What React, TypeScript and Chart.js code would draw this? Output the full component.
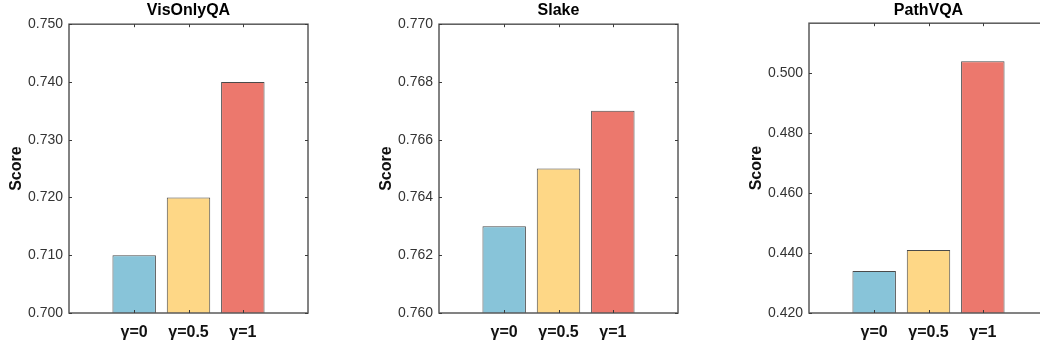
import React, { useEffect, useRef } from 'react';
import { Chart, registerables } from 'chart.js';

Chart.register(...registerables);

const categories = ['γ=0', 'γ=0.5', 'γ=1'];
const categoryPositions = [1, 2, 3];
const panelTitles = ['VisOnlyQA', 'Slake', 'PathVQA'];
const visOnlyQAScores = [0.71, 0.72, 0.74];
const slakeScores = [0.763, 0.765, 0.767];
const pathVQAScores = [0.434, 0.441, 0.504];
const visOnlyQATicks = [0.7, 0.71, 0.72, 0.73, 0.74, 0.75];
const slakeTicks = [0.76, 0.762, 0.764, 0.766, 0.768, 0.77];
const pathVQATicks = [0.42, 0.44, 0.46, 0.48, 0.5];
const visOnlyQARange = [0.7, 0.75];
const slakeRange = [0.76, 0.77];
const pathVQARange = [0.42, 0.51667];
const xRange = [-0.2, 4.2];
const barColors = ['#88C4D9', '#FED786', '#EC786D'];

const FONT = "'Liberation Sans', Arial, Helvetica, sans-serif";

const boxPlugin = {
  id: 'matlabBox',
  afterDatasetsDraw(chart: any) {
    const { ctx, chartArea } = chart;
    const { left, right, top, bottom } = chartArea;
    ctx.save();
    ctx.strokeStyle = '#5a5a5a';
    ctx.lineWidth = 1.5;
    ctx.strokeRect(left, top, right - left, bottom - top);
    ctx.lineWidth = 1;
    ctx.strokeStyle = '#3a3a3a';
    const xs = chart.scales.x;
    const ys = chart.scales.y;
    const L = 3;
    ctx.beginPath();
    xs.ticks.forEach((t: any) => {
      const px = Math.round(xs.getPixelForValue(t.value)) + 0.5;
      ctx.moveTo(px, bottom);
      ctx.lineTo(px, bottom - L);
      ctx.moveTo(px, top);
      ctx.lineTo(px, top + L);
    });
    ys.ticks.forEach((t: any) => {
      const py = Math.round(ys.getPixelForValue(t.value)) + 0.5;
      ctx.moveTo(left, py);
      ctx.lineTo(left + L, py);
      ctx.moveTo(right, py);
      ctx.lineTo(right - L, py);
    });
    ctx.stroke();
    ctx.restore();
  },
};

type PanelProps = {
  title: string;
  values: number[];
  ticks: number[];
  range: number[];
  left: number;
  width: number;
  titlePadBottom: number;
};

function Panel({ title, values, ticks, range, left, width, titlePadBottom }: PanelProps) {
  const ref = useRef<HTMLCanvasElement | null>(null);
  useEffect(() => {
    if (!ref.current) return;
    const chart = new Chart(ref.current, {
      type: 'bar',
      data: {
        datasets: [
          {
            data: categoryPositions.map((x, i) => ({ x, y: values[i] })),
            backgroundColor: barColors,
            borderColor: '#4a4a4a',
            borderWidth: 1,
            borderSkipped: false,
            barPercentage: 0.8,
            categoryPercentage: 1,
          },
        ],
      },
      options: {
        responsive: false,
        animation: false,
        devicePixelRatio: 1,
        layout: { padding: { left: 0, right: width - 308, top: 0, bottom: 0 } },
        plugins: {
          legend: { display: false },
          tooltip: { enabled: false },
          title: {
            display: true,
            text: title,
            fullSize: false,
            color: '#000',
            font: { family: FONT, size: 16, weight: 'bold' },
            padding: { top: 1, bottom: titlePadBottom },
          },
        },
        scales: {
          x: {
            type: 'linear',
            min: xRange[0],
            max: xRange[1],
            offset: false,
            grid: { display: false, drawTicks: false },
            border: { display: false },
            afterBuildTicks: (scale: any) => {
              scale.ticks = categoryPositions.map((v) => ({ value: v }));
            },
            afterFit: (scale: any) => {
              scale.height = 34;
            },
            ticks: {
              padding: 10,
              color: '#111',
              maxRotation: 0,
              autoSkip: false,
              font: { family: FONT, size: 16, weight: 'bold' },
              callback: (v: any) => {
                const i = categoryPositions.indexOf(Number(v));
                return i >= 0 ? categories[i] : '';
              },
            },
          },
          y: {
            type: 'linear',
            min: range[0],
            max: range[1],
            grid: { display: false, drawTicks: false },
            border: { display: false },
            afterBuildTicks: (scale: any) => {
              scale.ticks = ticks.map((v) => ({ value: v }));
            },
            afterFit: (scale: any) => {
              scale.width = 69;
            },
            title: {
              display: true,
              text: 'Score',
              color: '#111',
              font: { family: FONT, size: 16, weight: 'bold' },
              padding: { top: 7, bottom: 0 },
            },
            ticks: {
              padding: 6,
              color: '#333',
              font: { family: FONT, size: 14 },
              callback: (v: any) => Number(v).toFixed(3),
            },
          },
        },
      } as any,
      plugins: [boxPlugin],
    });
    return () => chart.destroy();
  }, []);
  return (
    <div style={{ position: 'absolute', left, top: 0, width, height: 347 }}>
      <canvas ref={ref} width={width} height={347} style={{ width, height: 347, display: 'block' }} />
    </div>
  );
}

export default function App() {
  return (
    <div
      style={{
        position: 'absolute',
        left: 0,
        top: 0,
        width: 1040,
        height: 347,
        overflow: 'hidden',
        background: '#fff',
      }}
    >
      <Panel title={panelTitles[0]} values={visOnlyQAScores} ticks={visOnlyQATicks} range={visOnlyQARange} left={0} width={370} titlePadBottom={4} />
      <Panel title={panelTitles[1]} values={slakeScores} ticks={slakeTicks} range={slakeRange} left={370} width={370} titlePadBottom={4} />
      <Panel title={panelTitles[2]} values={pathVQAScores} ticks={pathVQATicks} range={pathVQARange} left={740} width={312} titlePadBottom={3} />
    </div>
  );
}
